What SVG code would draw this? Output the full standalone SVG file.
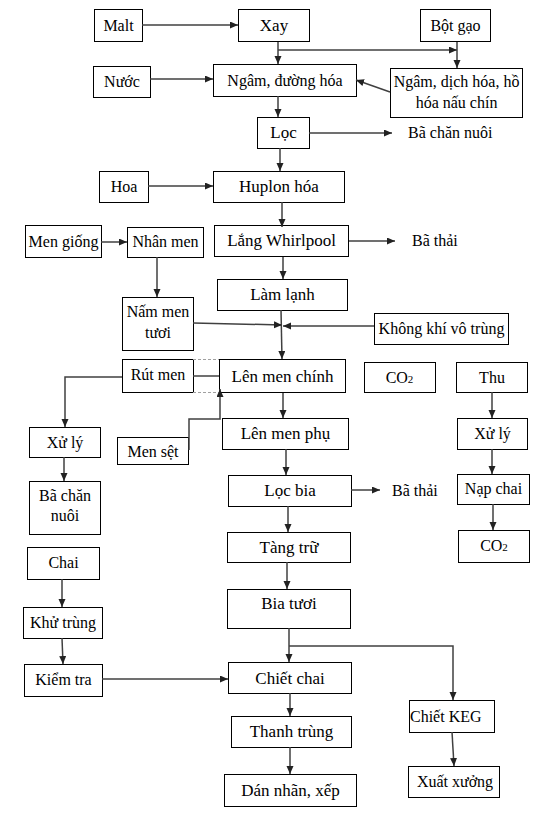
<svg xmlns="http://www.w3.org/2000/svg" width="549" height="813" viewBox="0 0 549 813">
<style>
rect{fill:#fff;stroke:#000;stroke-width:1}
text{font-family:'Liberation Serif','Times New Roman',serif;font-size:16px;fill:#000;text-anchor:middle}
.m{font-size:17px}
.l{text-anchor:start}
#connectors path{fill:none;stroke:#404040;stroke-width:1.5}
#connectors path.a{marker-end:url(#arr)}
#connectors path.d{stroke:#a0a0a0;stroke-width:1;stroke-dasharray:3,2}
</style>
<defs>
<marker id="arr" markerUnits="userSpaceOnUse" markerWidth="9" markerHeight="8" refX="8" refY="3.5" orient="auto">
<path d="M0,0 L8,3.5 L0,7 z" fill="#222"/>
</marker>
</defs>
<rect x="0" y="0" width="549" height="813" style="stroke:none"/>
<g id="n-malt"><rect x="94.5" y="9.5" width="48" height="32"/><text x="118.5" y="31">Malt</text></g>
<g id="n-xay"><rect x="238.5" y="9.5" width="71" height="32"/><text x="274" y="31" class="m">Xay</text></g>
<g id="n-botgao"><rect x="420.5" y="9.5" width="70" height="32"/><text x="455.5" y="31">Bột gạo</text></g>
<g id="n-nuoc"><rect x="93.5" y="66.5" width="57" height="31"/><text x="122" y="87">Nước</text></g>
<g id="n-ngam"><rect x="213.5" y="64.5" width="143" height="32"/><text x="285" y="86">Ngâm, đường hóa</text></g>
<g id="n-ngamdich"><rect x="390.5" y="68.5" width="132" height="49"/><text x="456.5" y="87">Ngâm, dịch hóa, hồ</text><text x="456.5" y="108">hóa nấu chín</text></g>
<g id="n-loc"><rect x="257.5" y="117.5" width="52" height="31"/><text x="283.5" y="138" class="m">Lọc</text></g>
<g id="t-ba1"><text x="408" y="138" class="l">Bã chăn nuôi</text></g>
<g id="n-hoa"><rect x="99.5" y="171.5" width="49" height="31"/><text x="124" y="192">Hoa</text></g>
<g id="n-huplon"><rect x="213.5" y="171.5" width="131" height="31"/><text x="279" y="192" class="m">Huplon hóa</text></g>
<g id="n-mengiong"><rect x="25.5" y="225.5" width="76" height="32"/><text x="63.5" y="247">Men giống</text></g>
<g id="n-nhanmen"><rect x="127.5" y="227.5" width="76" height="30"/><text x="165.5" y="247">Nhân men</text></g>
<g id="n-lang"><rect x="214.5" y="225.5" width="134" height="31"/><text x="281.5" y="246" class="m">Lắng Whirlpool</text></g>
<g id="t-ba2"><text x="412" y="246" class="l">Bã thải</text></g>
<g id="n-namlen"><rect x="122.5" y="297.5" width="71" height="53"/><text x="158" y="317">Nấm men</text><text x="158" y="338">tươi</text></g>
<g id="n-lamlanh"><rect x="217.5" y="279.5" width="130" height="31"/><text x="282.5" y="300" class="m">Làm lạnh</text></g>
<g id="n-khongkhi"><rect x="374.5" y="313.5" width="134" height="31"/><text x="441.5" y="334">Không khí vô trùng</text></g>
<g id="n-rutmen"><rect x="122.5" y="359.5" width="71" height="33"/><text x="158" y="380">Rút men</text></g>
<g id="n-lenmenchinh"><rect x="219.5" y="359.5" width="126" height="33"/><text x="282.5" y="382" class="m">Lên men chính</text></g>
<g id="n-co2a"><rect x="364.5" y="362.5" width="71" height="30"/><text x="399.5" y="383">CO<tspan font-size="11">2</tspan></text></g>
<g id="n-thu"><rect x="456.5" y="362.5" width="71" height="30"/><text x="492" y="383">Thu</text></g>
<g id="n-xuly1"><rect x="29.5" y="427.5" width="71" height="30"/><text x="65" y="448">Xử lý</text></g>
<g id="n-mensetbox"><rect x="117.5" y="437.5" width="71" height="27"/><text x="153" y="457">Men sệt</text></g>
<g id="n-lenmenphu"><rect x="222.5" y="418.5" width="126" height="31"/><text x="285.5" y="439" class="m">Lên men phụ</text></g>
<g id="n-xuly2"><rect x="457.5" y="418.5" width="70" height="31"/><text x="492.5" y="439">Xử lý</text></g>
<g id="n-ba3"><rect x="29.5" y="481.5" width="71" height="53"/><text x="65" y="501">Bã chăn</text><text x="65" y="521">nuôi</text></g>
<g id="n-locbia"><rect x="228.5" y="475.5" width="123" height="31"/><text x="290" y="496" class="m">Lọc bia</text></g>
<g id="t-ba4"><text x="392" y="496" class="l">Bã thải</text></g>
<g id="n-napchai"><rect x="457.5" y="474.5" width="72" height="30"/><text x="493.5" y="494">Nạp chai</text></g>
<g id="n-co2b"><rect x="458.5" y="530.5" width="71" height="32"/><text x="494" y="551">CO<tspan font-size="11">2</tspan></text></g>
<g id="n-tangtru"><rect x="227.5" y="532.5" width="123" height="30"/><text x="289" y="553" class="m">Tàng trữ</text></g>
<g id="n-chai"><rect x="27.5" y="547.5" width="72" height="32"/><text x="63.5" y="568">Chai</text></g>
<g id="n-biatuoi"><rect x="227.5" y="589.5" width="123" height="39"/><text x="289" y="609" class="m">Bia tươi</text></g>
<g id="n-khutrung"><rect x="23.5" y="607.5" width="79" height="31"/><text x="63" y="628">Khử trùng</text></g>
<g id="n-kiemtra"><rect x="24.5" y="664.5" width="78" height="32"/><text x="63.5" y="685">Kiểm tra</text></g>
<g id="n-chietchai"><rect x="228.5" y="662.5" width="123" height="31"/><text x="290" y="684" class="m">Chiết chai</text></g>
<g id="n-chietkeg"><rect x="409.5" y="700.5" width="85" height="32"/><text x="410" y="722" class="l">Chiết KEG</text></g>
<g id="n-thanhtrung"><rect x="231.5" y="716.5" width="120" height="31"/><text x="291.5" y="737" class="m">Thanh trùng</text></g>
<g id="n-xuatxuong"><rect x="408.5" y="766.5" width="91" height="31"/><text x="455" y="787">Xuất xưởng</text></g>
<g id="n-dannhan"><rect x="224.5" y="774.5" width="132" height="32"/><text x="290.5" y="796" class="m">Dán nhãn, xếp</text></g>
<g id="connectors">
<path class="a" d="M142,25 H238"/>
<path class="a" d="M278,42 V64"/>
<path class="a" d="M278,50 H457"/>
<path class="a" d="M457,42 V68"/>
<path class="a" d="M150,79 H213"/>
<path class="a" d="M390,92 L356,80"/>
<path class="a" d="M278,96 V117"/>
<path class="a" d="M309,133 H392"/>
<path class="a" d="M280,148 V171"/>
<path class="a" d="M148,186 H213"/>
<path class="a" d="M282,202 V227"/>
<path class="a" d="M349,241 H395"/>
<path class="a" d="M101,242 H127"/>
<path class="a" d="M157,257 V297"/>
<path class="a" d="M283,257 V279"/>
<path class="a" d="M281,310 L282,359"/>
<path class="a" d="M193,323 L282,325"/>
<path class="a" d="M374,326 H283"/>
<path d="M193,376 H219"/>
<path class="d" d="M193,359.5 H219"/>
<path class="d" d="M193,392.5 H219"/>
<path class="a" d="M122,377 H65 V427"/>
<path class="a" d="M64,457 V481"/>
<path class="a" d="M189,450 V419 H220 V389"/>
<path class="a" d="M283,393 V418"/>
<path class="a" d="M286,449 V475"/>
<path class="a" d="M351,490 H380"/>
<path class="a" d="M288,506 V532"/>
<path class="a" d="M492,392 V418"/>
<path class="a" d="M492,449 V474"/>
<path class="a" d="M493,504 V530"/>
<path class="a" d="M287,562 V589"/>
<path class="a" d="M289,628 V662"/>
<path class="a" d="M289,646 H453 V700"/>
<path class="a" d="M62,579 V607"/>
<path class="a" d="M62,638 L63,664"/>
<path class="a" d="M102,679 H228"/>
<path class="a" d="M290,693 V716"/>
<path class="a" d="M290,747 V774"/>
<path class="a" d="M452,732 L454,766"/>
</g>
</svg>
